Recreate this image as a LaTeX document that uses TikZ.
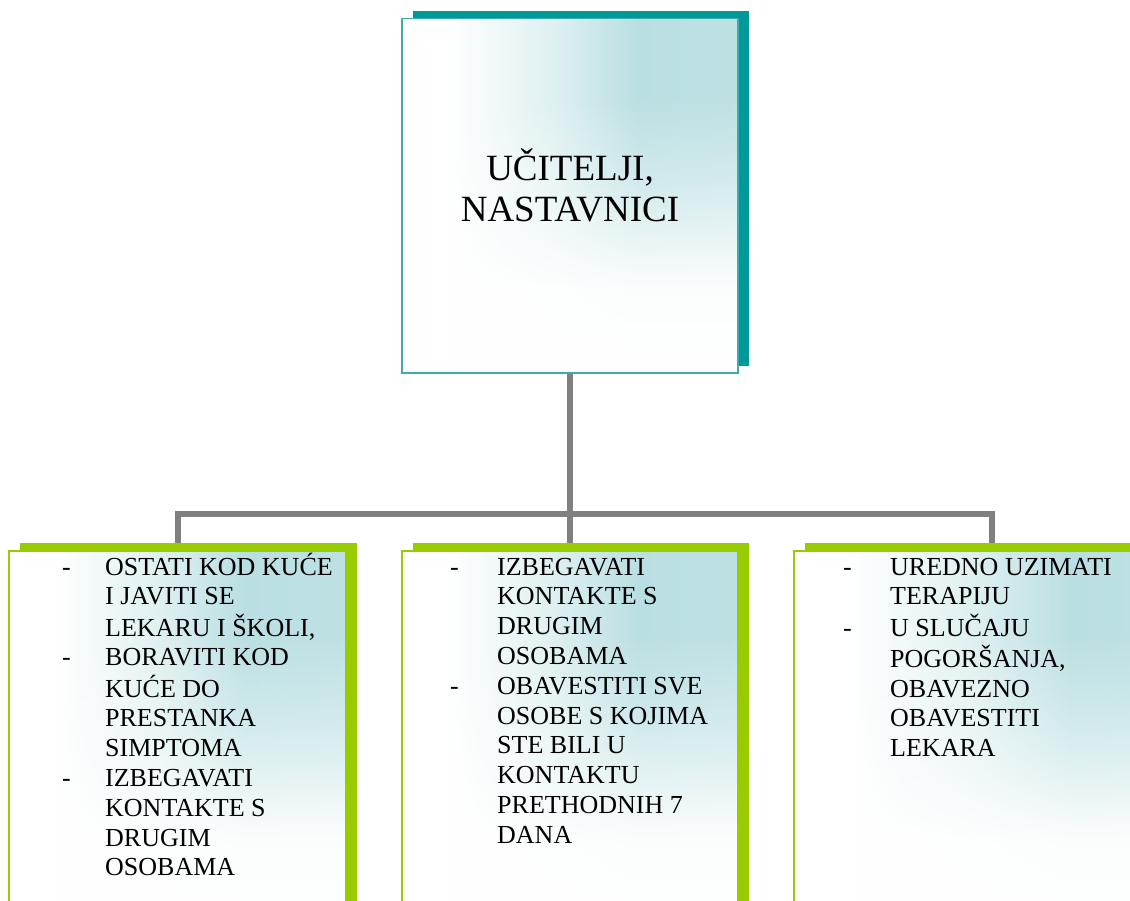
\documentclass[tikz,border=0pt]{standalone}
\usepackage{fontspec}
\setmainfont{Liberation Serif}
\usetikzlibrary{shadows,fadings,backgrounds}
\definecolor{tealshadow}{RGB}{0,153,153}
\definecolor{tealborder}{RGB}{60,172,172}
\definecolor{greenshadow}{RGB}{153,204,0}
\definecolor{lightteal}{RGB}{186,223,226}
\definecolor{conngray}{RGB}{128,128,128}
\pgfdeclarehorizontalshading{hteal}{100bp}{color(0bp)=(white); color(25bp)=(white); color(32bp)=(white); color(47bp)=(lightteal!45!white); color(60bp)=(lightteal); color(75bp)=(lightteal!95!white); color(100bp)=(lightteal!95!white)}
\pgfdeclareverticalshading{vfadeshade}{100bp}{color(0bp)=(pgftransparent!0); color(25bp)=(pgftransparent!0); color(37bp)=(pgftransparent!5); color(52bp)=(pgftransparent!65); color(64bp)=(pgftransparent!100); color(100bp)=(pgftransparent!100)}
\pgfdeclarefading{vfade}{\pgfuseshading{vfadeshade}}
\begin{document}
\begin{tikzpicture}[x=1pt,y=-1pt,
  boxbase/.style={rectangle, inner sep=0pt, outer sep=0pt, line width=1.5pt,
    preaction={shade, shading=hteal},
    preaction={fill=white, path fading=vfade}},
  topbox/.style={draw=tealborder,
    general shadow={shadow xshift=10.5pt, shadow yshift=7.5pt, fill=tealshadow, draw=none}, boxbase},
  leafbox/.style={draw=greenshadow,
    general shadow={shadow xshift=11pt, shadow yshift=8pt, fill=greenshadow, draw=none}, boxbase},
  toptext/.style={inner sep=0pt, font=\fontsize{37}{41}\selectfont},
  leaftext/.style={inner sep=0pt, anchor=base west, font=\fontsize{26}{29.8}\selectfont},
  conn/.style={draw=conngray, line width=6pt}
]
\useasboundingbox (0,0) rectangle (1130,900);
\begin{scope}
\clip (0,0) rectangle (1130,900);
% boxes
\node[topbox, anchor=north west, minimum width=336pt, minimum height=354.5pt] (top) at (402,18.5) {};
\node[leafbox, anchor=north west, minimum width=337pt, minimum height=380pt] (b1) at (9,551) {};
\node[leafbox, anchor=north west, minimum width=336pt, minimum height=380pt] (b2) at (402,551) {};
\node[leafbox, anchor=north west, minimum width=396pt, minimum height=380pt] (b3) at (794,551) {};
\end{scope}
% texts
\node[toptext, anchor=base] (ttop) at (570,180)
  {\begin{tabular}[t]{@{}c@{}}UČITELJI,\\NASTAVNICI\end{tabular}};
\node[leaftext] (t1) at (62,575) {\begin{tabular}[t]{@{}p{43pt}@{}l@{}}
-&OSTATI KOD KUĆE\\
 &I JAVITI SE\\
 &LEKARU I ŠKOLI,\\
-&BORAVITI KOD\\
 &KUĆE DO\\
 &PRESTANKA\\
 &SIMPTOMA\\
-&IZBEGAVATI\\
 &KONTAKTE S\\
 &DRUGIM\\
 &OSOBAMA
\end{tabular}};
\node[leaftext] (t2) at (450,575) {\begin{tabular}[t]{@{}p{47pt}@{}l@{}}
-&IZBEGAVATI\\
 &KONTAKTE S\\
 &DRUGIM\\
 &OSOBAMA\\
-&OBAVESTITI SVE\\
 &OSOBE S KOJIMA\\
 &STE BILI U\\
 &KONTAKTU\\
 &PRETHODNIH 7\\
 &DANA
\end{tabular}};
\node[leaftext] (t3) at (843,575) {\begin{tabular}[t]{@{}p{47pt}@{}l@{}}
-&UREDNO UZIMATI\\
 &TERAPIJU\\
-&U SLUČAJU\\
 &POGORŠANJA,\\
 &OBAVEZNO\\
 &OBAVESTITI\\
 &LEKARA
\end{tabular}};
% connectors
\begin{pgfonlayer}{background}
\coordinate (bus) at (570,514);
\coordinate (bus1) at (b1.north |- bus);
\coordinate (bus3) at (992,514);
\coordinate (drop3) at (992,551);
\draw[conn] (top.south) -- (bus);
\draw[conn, line cap=rect] (bus1) -- (bus3);
\draw[conn] (bus1) -- (b1.north);
\draw[conn] (bus) -- (b2.north);
\draw[conn] (bus3) -- (drop3);
\end{pgfonlayer}
\end{tikzpicture}
\end{document}
